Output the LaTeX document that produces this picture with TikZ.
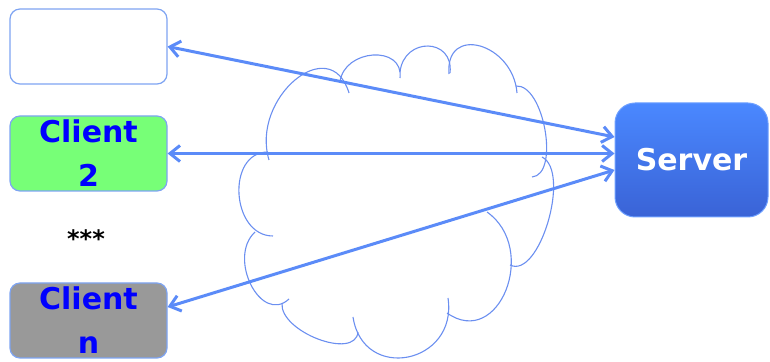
\documentclass[tikz,border=0pt]{standalone}
\usepackage{fontspec}
\setmainfont{DejaVu Sans}
\usetikzlibrary{arrows.meta}

\definecolor{edgeblue}{HTML}{7EA4F2}
\definecolor{linkblue}{HTML}{5B8BF8}
\definecolor{cloudblue}{HTML}{6B8FF0}
\definecolor{clientgreen}{HTML}{77FF77}
\definecolor{clientgray}{HTML}{999999}
\definecolor{servertop}{HTML}{4A88FF}
\definecolor{serverbot}{HTML}{3A63D6}

\tikzset{
  clientbox/.style={draw=edgeblue, line width=0.6pt, rounded corners=5pt,
    minimum width=78.5pt, minimum height=37.5pt, inner sep=0pt, align=center,
    font=\fontsize{15}{22}\selectfont\bfseries, text=blue},
  serverbox/.style={draw=servertop!80!white, line width=0.5pt, rounded corners=10pt,
    top color=servertop, bottom color=serverbot,
    minimum width=76.5pt, minimum height=57pt, inner sep=0pt,
    font=\fontsize{15}{18}\selectfont\bfseries, text=white},
  link/.style={draw=linkblue, line width=1.5pt,
    {Straight Barb[length=5pt,width=8pt]}-{Straight Barb[length=5pt,width=8pt]}},
  cloudline/.style={draw=cloudblue, line width=0.55pt}
}

\begin{document}
\begin{tikzpicture}[x=0.5pt,y=-0.5pt]
\useasboundingbox (0,0) rectangle (770,362);

% network cloud
\draw[cloudline] (269,160) .. controls (250.3,98) and (330.3,31) .. (349,93);
\draw[cloudline] (340,82) .. controls (344,48.7) and (404,44.7) .. (400,78);
\draw[cloudline] (400,72) .. controls (404,36.7) and (454,37.7) .. (450,73);
\draw[cloudline] (449,74) .. controls (445,24) and (513,43) .. (517,93);
\draw[cloudline] (516,86) .. controls (544,84) and (560,175) .. (532,177);
\draw[cloudline] (542,157) .. controls (571.3,171.7) and (539.3,279.7) .. (510,265);
\draw[cloudline] (487,212) .. controls (539,248.7) and (499,349.7) .. (447,313);
\draw[cloudline] (448,298) .. controls (458,364) and (363,383) .. (353,317);
\draw[cloudline] (358,332) .. controls (355.3,360.7) and (279.3,331.7) .. (282,303);
\draw[cloudline] (289,299) .. controls (261,325) and (227,258) .. (255,232);
\draw[cloudline] (273,236) .. controls (231,236) and (226,152) .. (268,152);

\node[clientbox, fill=white] (c1) at (88.5,46.5) {};
\node[clientbox, fill=clientgreen] (c2) at (88.5,153.5) {Client\\2};
\node[font=\fontsize{12}{14}\selectfont\bfseries] (dots) at (86,239) {***};
\node[clientbox, fill=clientgray] (cn) at (88.5,320.5) {Client\\n};
\node[serverbox] (server) at (691.5,160) {Server};

\draw[link] (c1.east) -- ([yshift=11.5pt]server.west);
\draw[link] ([yshift=0pt]c2.east) -- ([yshift=3.25pt]server.west);
\draw[link] ([yshift=6.75pt]cn.east) -- ([yshift=-5pt]server.west);
\end{tikzpicture}
\end{document}
